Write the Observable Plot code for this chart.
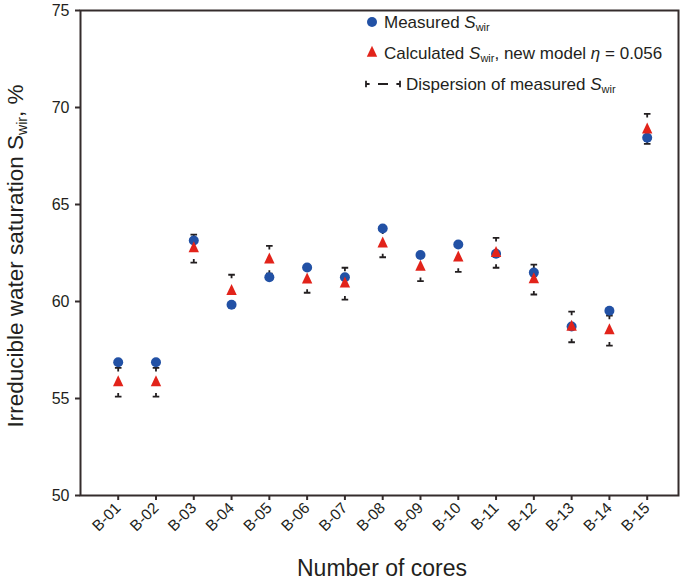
<!DOCTYPE html>
<html><head><meta charset="utf-8">
<script src="https://cdn.jsdelivr.net/npm/d3@7"></script>
<script src="https://cdn.jsdelivr.net/npm/@observablehq/plot@0.6"></script>
<style>
body{margin:0;background:#fff;}
#chart svg{font-family:"Liberation Sans",Arial,sans-serif;}
</style></head><body><div id="chart"></div>
<script>
const cores = ["B-01","B-02","B-03","B-04","B-05","B-06","B-07","B-08","B-09","B-10","B-11","B-12","B-13","B-14","B-15"];
const measured   = [56.87, 56.87, 63.14, 59.83, 61.25, 61.75, 61.25, 63.76, 62.40, 62.94, 62.46, 61.49, 58.71, 59.52, 68.44];
const calculated = [55.82, 55.82, 62.73, 60.53, 62.15, 61.12, 60.91, 62.97, 61.77, 62.25, 62.49, 61.13, 58.68, 58.50, 68.85];
const dispersionLow  = [55.10, 55.10, 62.00, 59.70, 61.43, 60.45, 60.10, 62.28, 61.05, 61.53, 61.74, 60.36, 57.90, 57.73, 68.13];
const dispersionHigh = [56.58, 56.58, 63.45, 61.38, 62.87, 61.80, 61.74, 63.66, 62.50, 62.95, 63.28, 61.90, 59.48, 59.27, 69.67];
const yTicks = [50, 55, 60, 65, 70, 75];

const data = cores.map((c, i) => ({core: c, measured: measured[i], calculated: calculated[i], low: dispersionLow[i], high: dispersionHigh[i]}));

const ink = "#231f20", axisInk = "#342c2c", blue = "#2251a5", red = "#e2231a";
const triangleSymbol = {draw(ctx) { ctx.moveTo(0, -7.3); ctx.lineTo(5.2, 3.7); ctx.lineTo(-5.2, 3.7); ctx.closePath(); }};
const capTop = {draw(ctx) { ctx.moveTo(-3.3, 0); ctx.lineTo(3.3, 0); ctx.moveTo(0, 0); ctx.lineTo(0, 3.6); }};
const capBottom = {draw(ctx) { ctx.moveTo(-3.3, 0); ctx.lineTo(3.3, 0); ctx.moveTo(0, 0); ctx.lineTo(0, -3.6); }};

const chart = Plot.plot({
  width: 685, height: 585,
  marginLeft: 80, marginRight: 7, marginTop: 10, marginBottom: 90,
  style: {fontFamily: '"Liberation Sans", Arial, sans-serif', color: ink, background: "#fff"},
  x: {type: "point", domain: cores, range: [117.7, 646.7], padding: 0, round: false, label: null},
  y: {domain: [50, 75], label: null},
  marks: [
    Plot.frame({stroke: axisInk, strokeWidth: 2}),
    Plot.axisY({ticks: yTicks, tickSize: 5, tickPadding: 6, fontSize: 16, stroke: axisInk, strokeWidth: 2, label: null, fill: ink}),
    Plot.axisX({tickSize: 5, tickPadding: 5, tickRotate: -45, fontSize: 15.5, stroke: axisInk, strokeWidth: 2, label: null, fill: ink}),
    Plot.dot(data, {x: "core", y: "high", symbol: capTop, stroke: ink, strokeWidth: 1.8, fill: "none"}),
    Plot.dot(data, {x: "core", y: "low", symbol: capBottom, stroke: ink, strokeWidth: 1.8, fill: "none"}),
    Plot.dot(data, {x: "core", y: "measured", r: 5, fill: blue, stroke: "none"}),
    Plot.dot(data, {x: "core", y: "calculated", symbol: triangleSymbol, fill: red, stroke: "none"})
  ]
});
document.getElementById("chart").appendChild(chart);

const svg = d3.select(chart);
// axis titles
const yl = svg.append("text").attr("transform", "translate(23,256) rotate(-90)")
  .attr("text-anchor", "middle").attr("font-size", 22.5).attr("fill", ink);
yl.append("tspan").text("Irreducible water saturation S");
yl.append("tspan").attr("font-size", 14).attr("dy", 4).text("wir");
yl.append("tspan").attr("dy", -4).text(", %");

svg.append("text").attr("x", 382).attr("y", 576).attr("text-anchor", "middle")
  .attr("font-size", 23).attr("fill", ink).text("Number of cores");

// legend
const lg = svg.append("g").attr("fill", ink).attr("font-size", 17).attr("text-anchor", "start");
const rows = [22, 53, 84];
lg.append("circle").attr("cx", 372).attr("cy", rows[0]).attr("r", 5).attr("fill", blue);
lg.append("path").attr("transform", `translate(372,${rows[1]})`).attr("d", d3.symbol(triangleSymbol)()).attr("fill", red);
const ey = rows[2];
lg.append("path").attr("d", `M366,${ey-3.3}V${ey+3.3}M366,${ey}h3.6M378,${ey}h10M400,${ey-3.3}V${ey+3.3}M400,${ey}h-3.6`)
  .attr("stroke", ink).attr("stroke-width", 1.8).attr("fill", "none");

function legendText(x, y, parts) {
  const t = lg.append("text").attr("x", x).attr("y", y);
  parts.forEach(p => {
    const s = t.append("tspan").text(p.t);
    if (p.i) s.attr("font-style", "italic");
    if (p.sub) s.attr("font-size", 11).attr("dy", 3);
    if (p.up) s.attr("dy", -3);
  });
}
legendText(384, rows[0] + 6, [{t: "Measured "}, {t: "S", i: 1}, {t: "wir", sub: 1}]);
legendText(384, rows[1] + 6, [{t: "Calculated "}, {t: "S", i: 1}, {t: "wir", sub: 1}, {t: ", new model ", up: 1}, {t: "η", i: 1}, {t: " = 0.056"}]);
legendText(406, rows[2] + 6, [{t: "Dispersion of measured "}, {t: "S", i: 1}, {t: "wir", sub: 1}]);
</script></body></html>
